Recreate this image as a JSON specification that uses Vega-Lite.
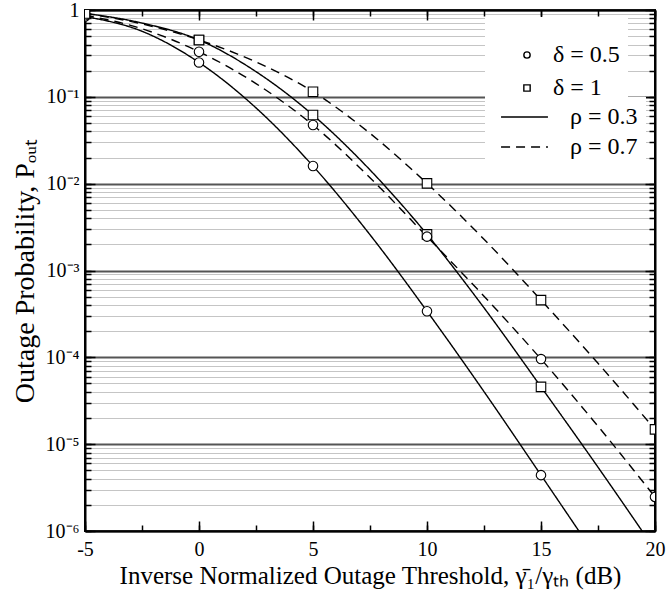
{
  "$schema": "https://vega.github.io/schema/vega-lite/v6.json",
  "width": 570,
  "height": 521,
  "autosize": {"type": "none"},
  "padding": {"left": 85, "top": 10, "right": 14, "bottom": 70},
  "background": "white",
  "config": {
    "view": {"stroke": "black", "strokeWidth": 2},
    "font": "Liberation Serif",
    "axis": {
      "domainColor": "black",
      "domainWidth": 2,
      "tickColor": "black",
      "tickWidth": 1.5,
      "labelColor": "black",
      "titleColor": "black",
      "labelFont": "Liberation Serif",
      "titleFont": "Liberation Serif",
      "titleFontWeight": "normal",
      "labelFlush": false,
      "labelOverlap": false
    }
  },
  "datasets": {
    "curves": [
      {"d": "0.5", "r": "0.3", "x": -5, "p": 0.841},
      {"d": "0.5", "r": "0.3", "x": -2.5, "p": 0.569},
      {"d": "0.5", "r": "0.3", "x": 0, "p": 0.249},
      {"d": "0.5", "r": "0.3", "x": 2.5, "p": 0.0746},
      {"d": "0.5", "r": "0.3", "x": 5, "p": 0.01596},
      {"d": "0.5", "r": "0.3", "x": 7.5, "p": 0.00258},
      {"d": "0.5", "r": "0.3", "x": 10, "p": 0.00034},
      {"d": "0.5", "r": "0.3", "x": 12.5, "p": 0.0000403},
      {"d": "0.5", "r": "0.3", "x": 15, "p": 0.0000044},
      {"d": "0.5", "r": "0.3", "x": 17.5, "p": 0.000000473},

      {"d": "1", "r": "0.3", "x": -5, "p": 0.916},
      {"d": "1", "r": "0.3", "x": -2.5, "p": 0.708},
      {"d": "1", "r": "0.3", "x": 0, "p": 0.452},
      {"d": "1", "r": "0.3", "x": 2.5, "p": 0.195},
      {"d": "1", "r": "0.3", "x": 5, "p": 0.0617},
      {"d": "1", "r": "0.3", "x": 7.5, "p": 0.0144},
      {"d": "1", "r": "0.3", "x": 10, "p": 0.002606},
      {"d": "1", "r": "0.3", "x": 12.5, "p": 0.000372},
      {"d": "1", "r": "0.3", "x": 15, "p": 0.0000457},
      {"d": "1", "r": "0.3", "x": 17.5, "p": 0.00000543},
      {"d": "1", "r": "0.3", "x": 20, "p": 0.000000608},

      {"d": "0.5", "r": "0.7", "x": -5, "p": 0.871},
      {"d": "0.5", "r": "0.7", "x": -2.5, "p": 0.608},
      {"d": "0.5", "r": "0.7", "x": 0, "p": 0.331},
      {"d": "0.5", "r": "0.7", "x": 2.5, "p": 0.142},
      {"d": "0.5", "r": "0.7", "x": 5, "p": 0.0473},
      {"d": "0.5", "r": "0.7", "x": 7.5, "p": 0.01172},
      {"d": "0.5", "r": "0.7", "x": 10, "p": 0.002455},
      {"d": "0.5", "r": "0.7", "x": 12.5, "p": 0.000506},
      {"d": "0.5", "r": "0.7", "x": 15, "p": 0.0000955},
      {"d": "0.5", "r": "0.7", "x": 17.5, "p": 0.0000161},
      {"d": "0.5", "r": "0.7", "x": 20, "p": 0.00000247},

      {"d": "1", "r": "0.7", "x": -5, "p": 0.912},
      {"d": "1", "r": "0.7", "x": -2.5, "p": 0.692},
      {"d": "1", "r": "0.7", "x": 0, "p": 0.452},
      {"d": "1", "r": "0.7", "x": 2.5, "p": 0.252},
      {"d": "1", "r": "0.7", "x": 5, "p": 0.1146},
      {"d": "1", "r": "0.7", "x": 7.5, "p": 0.038},
      {"d": "1", "r": "0.7", "x": 10, "p": 0.01007},
      {"d": "1", "r": "0.7", "x": 12.5, "p": 0.00229},
      {"d": "1", "r": "0.7", "x": 15, "p": 0.000456},
      {"d": "1", "r": "0.7", "x": 17.5, "p": 0.0000855},
      {"d": "1", "r": "0.7", "x": 20, "p": 0.0000148}
    ]
  },
  "data": {"name": "curves"},
  "layer": [
    {
      "mark": {"type": "line", "interpolate": "monotone", "clip": true, "color": "black"},
      "encoding": {
        "x": {
          "field": "x", "type": "quantitative",
          "scale": {"domain": [-5, 20], "nice": false, "zero": false},
          "axis": {
            "orient": "bottom",
            "values": [-5, -2.5, 0, 2.5, 5, 7.5, 10, 12.5, 15, 17.5, 20],
            "labelExpr": "datum.value % 5 == 0 ? '' + datum.value : ''",
            "labelFontSize": 20,
            "labelPadding": 14,
            "grid": false,
            "tickSize": -6,
            "title": "Inverse Normalized Outage Threshold,  γ̄₁/γₜₕ (dB)",
            "titleFontSize": 25,
            "titlePadding": 4
          }
        },
        "y": {
          "field": "p", "type": "quantitative",
          "scale": {"type": "log", "domain": [0.000001, 1], "nice": false},
          "axis": {
            "orient": "left",
            "values": [0.000001, 0.000002, 0.000003, 0.000004, 0.000005, 0.000006, 0.000007, 0.000008, 0.000009,
                       0.00001, 0.00002, 0.00003, 0.00004, 0.00005, 0.00006, 0.00007, 0.00008, 0.00009,
                       0.0001, 0.0002, 0.0003, 0.0004, 0.0005, 0.0006, 0.0007, 0.0008, 0.0009,
                       0.001, 0.002, 0.003, 0.004, 0.005, 0.006, 0.007, 0.008, 0.009,
                       0.01, 0.02, 0.03, 0.04, 0.05, 0.06, 0.07, 0.08, 0.09,
                       0.1, 0.2, 0.3, 0.4, 0.5, 0.6, 0.7, 0.8, 0.9, 1],
            "labelExpr": "abs(log(datum.value)/LN10 - round(log(datum.value)/LN10)) < 0.001 ? (datum.value > 0.5 ? '1' : '10⁻' + ['','¹','²','³','⁴','⁵','⁶'][round(-log(datum.value)/LN10)]) : ''",
            "labelFontSize": 20,
            "labelPadding": 12,
            "grid": true,
            "gridColor": {"condition": {"test": "abs(log(datum.value)/LN10 - round(log(datum.value)/LN10)) < 0.001", "value": "#555555"}, "value": "#8a8a8a"},
            "gridDash": {"condition": {"test": "abs(log(datum.value)/LN10 - round(log(datum.value)/LN10)) < 0.001", "value": []}, "value": [1, 1]},
            "gridWidth": {"condition": {"test": "abs(log(datum.value)/LN10 - round(log(datum.value)/LN10)) < 0.001", "value": 2}, "value": 1},
            "tickSize": -6,
            "title": "Outage Probability,  Pₒᵤₜ",
            "titleFontSize": 28,
            "titlePadding": 6
          }
        },
        "detail": {"field": "d", "type": "nominal"},
        "strokeWidth": {
          "field": "d", "type": "ordinal",
          "scale": {"type": "point", "domain": ["0.5", "1"], "range": [1.4, 1.4]},
          "legend": {
            "orient": "none", "legendX": 400, "legendY": 7, "zindex": 1,
            "title": " ", "titleFontSize": 18, "titlePadding": 0,
            "padding": 8, "fillColor": "white",
            "symbolSize": 40, "symbolStrokeWidth": 1.3, "symbolFillColor": "white", "symbolStrokeColor": "black",
            "symbolOffset": 22, "labelOffset": 14, "labelFontSize": 24, "labelFont": "Liberation Serif",
            "labelColor": "black", "rowPadding": 9,
            "labelExpr": "'δ = ' + datum.label",
            "encode": {
              "symbols": {
                "update": {
                  "shape": {"signal": "datum.value == '0.5' ? 'circle' : 'square'"},
                  "fill": {"value": "white"},
                  "stroke": {"value": "black"},
                  "strokeWidth": {"value": 1.3},
                  "strokeDash": {"value": []},
                  "size": {"value": 40},
                  "opacity": {"value": 1}
                }
              }
            }
          }
        },
        "strokeDash": {
          "field": "r", "type": "nominal",
          "scale": {"domain": ["0.3", "0.7"], "range": [[1, 0], [9, 6]]},
          "legend": {
            "orient": "none", "legendX": 400, "legendY": 87, "zindex": 2,
            "title": null, "padding": 8, "fillColor": "white",
            "symbolType": "stroke", "symbolSize": 2200, "symbolStrokeWidth": 1.4, "symbolStrokeColor": "black",
            "symbolOffset": 7, "labelOffset": 21, "labelFontSize": 24, "labelFont": "Liberation Serif",
            "labelColor": "black", "rowPadding": 6, "clipHeight": 24,
            "labelExpr": "'ρ = ' + datum.label"
          }
        }
      }
    },
    {
      "transform": [{"filter": "datum.x % 5 == 0"}],
      "mark": {"type": "point", "filled": false, "fill": "white", "fillOpacity": 1, "stroke": "black", "strokeWidth": 1.1, "size": 90, "clip": true},
      "encoding": {
        "x": {
          "field": "x", "type": "quantitative",
          "scale": {"domain": [-5, 20], "nice": false, "zero": false},
          "axis": {
            "orient": "top",
            "values": [-5, -2.5, 0, 2.5, 5, 7.5, 10, 12.5, 15, 17.5, 20],
            "labels": false,
            "grid": false,
            "tickSize": -6,
            "title": null
          }
        },
        "y": {
          "field": "p", "type": "quantitative",
          "scale": {"type": "log", "domain": [0.000001, 1], "nice": false},
          "axis": {
            "orient": "right",
            "values": [0.000001, 0.000002, 0.000003, 0.000004, 0.000005, 0.000006, 0.000007, 0.000008, 0.000009,
                       0.00001, 0.00002, 0.00003, 0.00004, 0.00005, 0.00006, 0.00007, 0.00008, 0.00009,
                       0.0001, 0.0002, 0.0003, 0.0004, 0.0005, 0.0006, 0.0007, 0.0008, 0.0009,
                       0.001, 0.002, 0.003, 0.004, 0.005, 0.006, 0.007, 0.008, 0.009,
                       0.01, 0.02, 0.03, 0.04, 0.05, 0.06, 0.07, 0.08, 0.09,
                       0.1, 0.2, 0.3, 0.4, 0.5, 0.6, 0.7, 0.8, 0.9, 1],
            "labels": false,
            "grid": false,
            "tickSize": -6,
            "title": null
          }
        },
        "shape": {
          "field": "d", "type": "nominal",
          "scale": {"domain": ["0.5", "1"], "range": ["circle", "square"]},
          "legend": null
        }
      }
    },
    {
      "transform": [{"filter": "datum.x % 5 == 0"}],
      "mark": {"type": "point", "opacity": 0, "clip": true},
      "encoding": {
        "x": {
          "field": "x", "type": "quantitative",
          "scale": {"domain": [-5, 20], "nice": false, "zero": false},
          "axis": {"orient": "bottom", "values": [-5, 0, 5, 10, 15, 20], "labels": false, "domain": false, "grid": false, "tickSize": -10, "title": null}
        },
        "y": {
          "field": "p", "type": "quantitative",
          "scale": {"type": "log", "domain": [0.000001, 1], "nice": false},
          "axis": {"orient": "left", "values": [0.000001, 0.00001, 0.0001, 0.001, 0.01, 0.1, 1], "labels": false, "domain": false, "grid": false, "tickSize": -10, "title": null}
        }
      }
    },
    {
      "transform": [{"filter": "datum.x % 5 == 0"}],
      "mark": {"type": "point", "opacity": 0, "clip": true},
      "encoding": {
        "x": {
          "field": "x", "type": "quantitative",
          "scale": {"domain": [-5, 20], "nice": false, "zero": false},
          "axis": {"orient": "top", "values": [-5, 0, 5, 10, 15, 20], "labels": false, "domain": false, "grid": false, "tickSize": -10, "title": null}
        },
        "y": {
          "field": "p", "type": "quantitative",
          "scale": {"type": "log", "domain": [0.000001, 1], "nice": false},
          "axis": {"orient": "right", "values": [0.000001, 0.00001, 0.0001, 0.001, 0.01, 0.1, 1], "labels": false, "domain": false, "grid": false, "tickSize": -10, "title": null}
        }
      }
    }
  ],
  "resolve": {"axis": {"x": "independent", "y": "independent"}}
}
